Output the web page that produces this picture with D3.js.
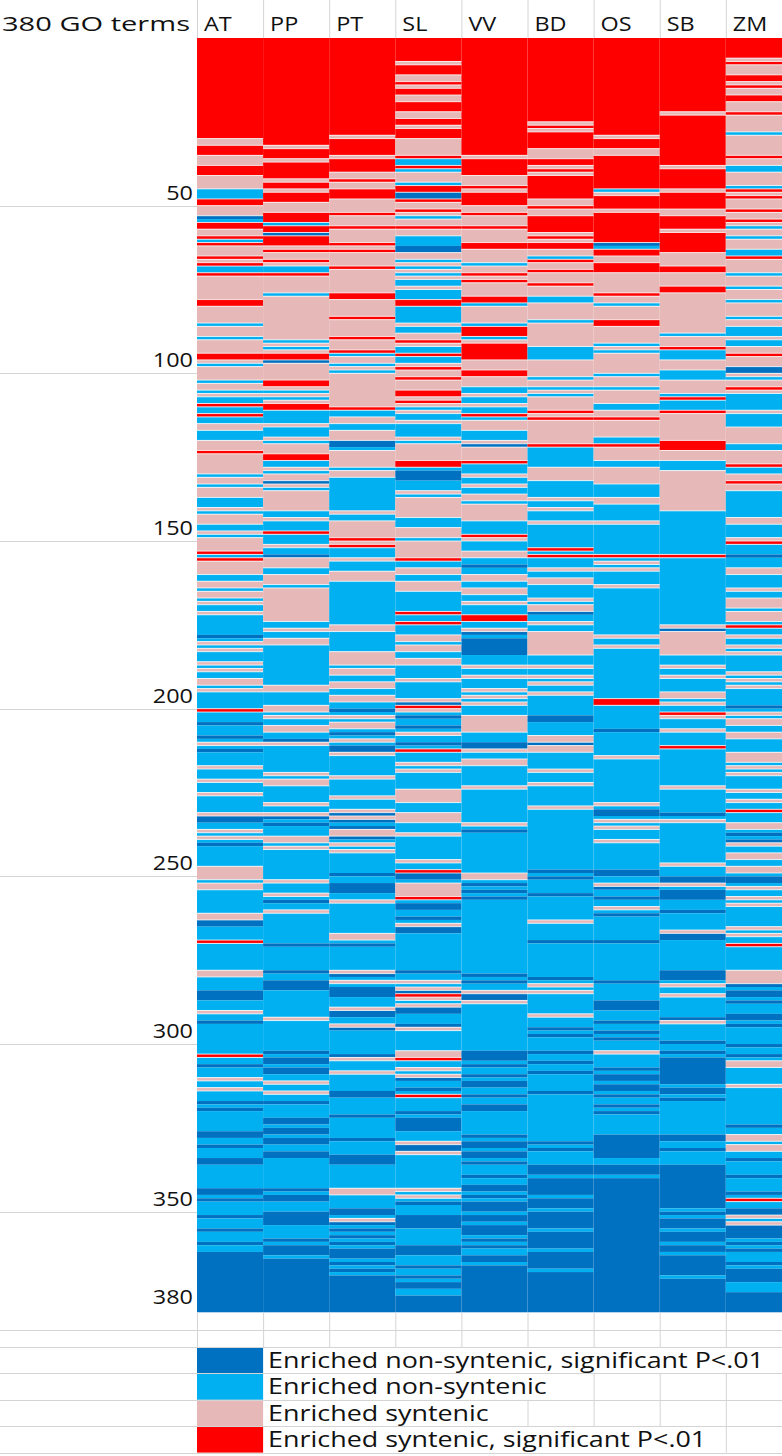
<!DOCTYPE html>
<html>
<head>
<meta charset="utf-8">
<script src="https://cdn.jsdelivr.net/npm/d3@7"></script>
<style>
  body { margin: 0; background: #fff; }
  svg { display: block; }
  text { font-family: "Open Sans", "Noto Sans", sans-serif; fill: #111; }
</style>
</head>
<body>
<svg id="chart" width="782" height="1456"></svg>
<script>
// Species columns and row labels
const species = ["AT", "PP", "PT", "SL", "VV", "BD", "OS", "SB", "ZM"];
const rowTicks = [50, 100, 150, 200, 250, 300, 350, 380];
const totalTerms = 380;

// Category codes: D = enriched non-syntenic (P<.01), L = enriched non-syntenic,
// P = enriched syntenic, R = enriched syntenic (P<.01)
const categoryCodes = ["D", "L", "P", "R"];
const categoryLabels = [
  "Enriched non-syntenic, significant P<.01",
  "Enriched non-syntenic",
  "Enriched syntenic",
  "Enriched syntenic, significant P<.01"
];
const categoryColors = ["#0070c0", "#00b0f0", "#e6b8b7", "#ff0000"];

// Each token = category code + first GO-term row (0-based) of a run of equal category
const AT = "R0 P30 R32 P35 R38 P41 L45 R48 P50 D53 L54 R55 P57 R59 L60 R61 P62 R65 P66 R67 L68 R70 P71 R78 P80 L85 P86 L89 P90 R94 P96 L97 P98 L102 P103 L105 P106 L107 R109 L110 R112 L113 P115 L117 P120 R123 P124 L130 P131 L133 P134 L137 P140 L141 P142 L145 P147 L148 P149 R153 L154 R155 P156 L160 P162 L164 P165 L167 P168 L169 P171 L172 D178 L179 P180 L181 P182 L183 P186 L187 P188 L189 P191 L193 P194 L195 R200 L201 D204 L205 D208 L209 P210 L211 D212 L213 P217 L218 P221 L222 P225 L226 P231 D232 L234 P236 L237 P238 L239 D240 L241 P247 L251 P252 L254 P261 D263 L265 R269 L270 P278 L280 D284 L287 P290 L291 D293 L294 R303 L304 D306 L307 P310 L311 P313 L314 D317 L318 D319 L320 D326 L328 D330 L331 D334 L336 D343 L345 D346 L347 D351 L352 D355 L356 D359 L360 D362".split(" ");
const PP = "R0 P32 R33 P36 R37 P42 R43 P45 R46 P49 R52 L55 R56 D58 R59 P62 R63 P64 R66 P67 L68 R70 P71 L76 P77 L90 P91 L92 P93 R94 D96 P97 R102 P104 L105 P106 L107 P108 R109 L111 P115 L116 P119 L120 P121 R124 L126 P128 L129 P130 D132 P133 L134 P135 L141 P143 L144 R147 L148 P151 L152 D154 P155 L158 P160 L163 P164 L174 P176 L177 P179 L181 P193 L195 P199 L201 P202 L203 P205 L207 D209 P210 L211 P219 L220 P221 L223 P228 L229 P231 D232 L233 D234 L235 P238 L240 P241 L242 P251 L252 P255 L256 D257 L258 P260 L261 D270 L271 D278 L279 D281 L284 P292 L293 D302 L303 D304 L306 D307 L309 P311 L312 P314 L315 D317 L318 D322 L324 D325 L327 D328 L330 D332 L334 D343 L344 D345 L347 D350 L354 D358 L359 D360 L363 D364".split(" ");
const PT = "R0 P29 R30 P35 R36 P40 R42 P43 R45 P48 R52 P53 R56 P57 R61 P62 R63 P64 R68 P69 R76 P78 R83 P84 R89 P90 R93 L94 P95 L97 P98 L99 P100 R110 L111 P113 L115 P117 D120 L122 P123 L128 P129 L131 P141 L142 P144 R149 P150 R151 L152 P155 L156 P159 L162 P175 L177 P183 L187 P188 L190 P192 L194 P196 L198 D200 L201 P202 L203 P204 L206 D207 L208 P209 L210 D211 P213 L214 P220 L221 P226 L227 P230 D231 P232 D233 L234 D235 P236 D238 L239 P240 L241 P242 L243 D249 L250 D252 L255 P257 L258 P267 L269 D270 L271 P278 D279 L280 P281 L282 D283 L286 P289 D290 L292 P294 D295 L296 D303 P304 L305 P308 L309 D314 L316 D321 L322 D328 L329 D333 L336 P343 L345 D349 L351 P352 D353 L354 D355 L356 D357 L358 D359 L360 D361 L364 D365 L366 D367 L368 D369".split(" ");
const SL = "R0 P7 R8 P11 R13 P14 R15 P17 R19 P22 R24 P26 R27 P30 R35 L36 R38 L39 P40 L43 R44 D46 R48 P49 R51 P52 L53 P54 R56 P57 L59 D62 P64 L66 P67 L68 P69 L70 P71 L72 P74 L75 R78 L80 P85 L86 P88 R90 P91 L92 R94 L95 P97 R98 P99 R101 P102 R105 P107 R108 P109 L110 P111 L112 P114 L115 P119 L120 P121 R126 L128 D129 L132 P135 L136 P137 L143 P146 L149 P150 R155 L156 P158 L160 P162 L165 R171 L172 R174 L175 P178 L180 P181 L183 P185 L187 P191 L192 P197 D198 R199 P200 L201 D202 L203 D205 L206 P207 L208 D210 L211 R212 L213 P216 L217 P218 L219 P224 L228 P231 L234 P237 L238 P245 L246 R248 D249 L251 P252 R256 L257 D258 L260 D262 L263 P264 D265 L267 D278 L279 P281 L282 P283 D284 R285 P286 L287 P288 D289 L291 D294 P295 L296 P302 R304 L305 P307 L308 P309 D310 L311 D313 L314 R315 L316 D320 L321 D322 L326 P329 D330 P332 L333 P343 L344 P345 L346 D347 L348 D351 L355 D360 L363 D366 L367 D369 L370 D371 L373 D375".split(" ");
const VV = "R0 P35 R36 P41 R44 P45 R46 P50 R52 P53 R56 P57 R61 P63 L67 P68 R70 P71 R72 P73 R77 L79 P80 L85 R86 L89 P90 R91 P96 R99 P101 L104 P106 L107 P109 L110 R112 L113 P114 L117 P120 D121 P122 R126 L127 P130 L131 P133 L134 P136 L138 P139 L144 R148 P149 L150 P153 L155 D157 L158 P160 L162 P164 L166 P168 L169 R172 L174 P176 D177 L178 D179 L184 P187 L188 P190 L191 P194 L195 P196 L197 P198 L199 P202 L207 D210 P212 L213 P215 L217 P223 L224 P234 L235 D236 L237 P249 L251 D252 L253 D254 L255 D256 L257 D279 L280 D281 L282 P284 D285 P287 L288 D302 L305 D306 L307 D309 L310 D311 L313 D315 L316 D318 L320 D327 L328 D329 L331 D332 L334 D335 L336 D339 L340 D342 L344 D345 L346 D347 L350 D351 L353 D354 L357 D358 L359 D360 L361 D363 L365 D366".split(" ");
const BD = "R0 P25 R26 P27 R28 P33 R36 P38 R39 P40 R41 P48 R50 P51 R53 P58 R59 P60 R61 P63 L65 R66 P67 R69 P70 R73 P74 L77 P79 L84 P85 L92 P96 L101 P102 L104 P105 L106 P107 R111 P112 R113 P114 R121 L122 P128 L132 P137 L138 P140 L141 P144 L145 R152 L153 R154 L155 P158 L159 P161 L163 P167 L168 P169 D171 L172 P174 L175 P177 L184 P187 L188 P190 L191 P192 L193 P195 L196 D202 L204 P208 D210 P211 L213 P218 L219 P222 L223 P229 L230 D248 L249 D250 L251 D255 L256 P263 L264 D269 L270 D280 L281 P282 L283 P284 L285 P291 L292 D295 L296 D297 L298 D302 L303 D305 L306 D308 L309 D314 L315 D329 L330 D331 L332 D336 L339 D340 L345 D346 L349 D350 L355 D356 L361 D362 L367 D368".split(" ");
const OS = "R0 P29 R30 P33 R35 L45 P46 R47 P51 R52 D61 L62 R63 P65 R67 P70 R76 P77 L79 P80 R84 P86 L91 P92 L93 P94 L100 P101 L104 P105 L109 P111 R113 P114 L119 R121 P122 L126 P128 L133 P137 L139 P144 L145 R154 L155 P156 L157 P158 L159 P163 L164 P178 L179 P181 L182 R197 L199 D206 L207 P214 L215 P228 L229 D230 L232 P233 L234 P235 L236 P239 L240 D248 L250 P252 D253 L254 D256 L257 P259 L260 D261 L262 D269 L270 D281 L282 D287 L290 D293 L294 D296 L297 D298 L299 P302 L303 D307 L308 D309 L311 D312 L314 D315 L316 D318 L319 D320 L321 D327 L334 D336 L339 D340".split(" ");
const SB = "R0 P22 R23 P38 R39 P45 R46 P51 R53 P57 R58 P64 R68 P70 R74 P76 L88 P89 R92 L93 P96 L99 P102 L106 R107 L108 R111 P112 R120 P123 L126 P129 L141 R154 L155 P175 D176 P177 L184 P187 L188 P190 L191 P195 L197 P198 L199 R201 P202 L203 P206 L207 R211 L212 P223 L224 D231 L232 P233 L234 P246 L247 D250 P252 L253 D254 L257 D260 L261 P266 D267 L269 D278 L281 P282 L283 P285 L286 D292 P293 L294 D299 L300 D302 L303 D304 L312 D313 L315 D316 L317 D327 L329 D331 L332 D336 L349 D350 L351 D352 L355 D356 L359 D360 L362 D363 L369 D370".split(" ");
const ZM = "R0 P6 R7 P8 R11 P13 R14 P15 R17 P19 R22 P23 L28 P29 R35 P36 L38 P40 L44 R45 P46 R47 P48 R51 P52 R54 P55 L56 P57 L59 P60 L63 R65 P66 L70 P71 L74 P75 L78 P79 L83 P84 L86 P89 L90 P92 R94 P95 D98 P100 L101 P102 R104 P105 L106 P111 L112 P116 L121 P123 R127 L128 P130 R132 P133 L135 P143 L145 P149 R150 L151 D154 L155 P158 L160 P164 L165 P167 L170 P171 L174 R175 L176 P178 L179 P181 L182 P183 L184 P189 L190 P191 L192 P193 L194 D199 L200 P201 L202 P203 L205 P207 L209 P213 L216 P217 L218 P219 L220 P224 L225 P227 L228 R230 L231 P234 L236 D237 L238 D239 P240 L241 P243 L245 P247 L249 D250 L252 P253 L254 P256 L257 P258 L259 P265 L266 P267 L268 R270 L271 P278 D282 L283 D284 L286 D287 L288 D291 L293 D294 L295 D300 L301 D303 L304 P305 L307 P312 L313 D324 L325 P327 L329 P330 L332 D334 L335 D339 L340 D344 L345 R346 L347 D349 P351 L352 P353 D354 L358 D359 L360 D361 L362 D365 L366 D367 L371 D374".split(" ");

const columnTokens = { AT, PP, PT, SL, VV, BD, OS, SB, ZM };

// ---- layout ----
const W = 782, H = 1456;
const labelColRight = 197;
const colWidth = 66.1;
const headerBottom = 38;
const heatBottom = 1312.3;
const gridColor = "#d4d4d4";
const labelFont = 19.5;
const labelStretch = 1.2;     // wide spreadsheet lettering
const titleWidth = 188;
const legendFont = 21;
const legendStretch = 1.28;

const svg = d3.select("#chart");

// widen glyphs horizontally without changing their height
function stretch(sel, sx) {
  sel.each(function () {
    const w = this.getComputedTextLength();
    d3.select(this).attr("textLength", w * sx).attr("lengthAdjust", "spacingAndGlyphs");
  });
}

const x = d3.scaleBand()
  .domain(species)
  .range([labelColRight, labelColRight + colWidth * species.length])
  .paddingInner(0).paddingOuter(0);

const y = d3.scaleLinear()
  .domain([0, totalTerms])
  .range([headerBottom, heatBottom]);

const color = d3.scaleOrdinal().domain(categoryCodes).range(categoryColors);

// Convert run tokens to {species, code, start, end}
const runs = [];
species.forEach(sp => {
  const toks = columnTokens[sp];
  toks.forEach((t, i) => {
    const start = +t.slice(1);
    const end = i < toks.length - 1 ? +toks[i + 1].slice(1) : totalTerms;
    runs.push({ sp, code: t[0], prev: i > 0 ? toks[i - 1][0] : null, start, end });
  });
});

// ---- header ----
const header = svg.append("g");
header.selectAll("line.vsep")
  .data(species)
  .join("line")
  .attr("class", "vsep")
  .attr("x1", d => x(d) + 0.5).attr("x2", d => x(d) + 0.5)
  .attr("y1", 0).attr("y2", headerBottom)
  .attr("stroke", gridColor);
const title = header.append("text")
  .attr("x", 2).attr("y", 31)
  .attr("font-size", labelFont)
  .text(totalTerms + " GO terms");
title.attr("textLength", titleWidth).attr("lengthAdjust", "spacingAndGlyphs");
header.selectAll("text.sp")
  .data(species)
  .join("text")
  .attr("class", "sp")
  .attr("x", d => x(d) + 7)
  .attr("y", 31)
  .attr("font-size", labelFont)
  .text(d => d)
  .call(stretch, labelStretch);

// ---- row label column ----
const left = svg.append("g");
left.selectAll("line.rowgrid")
  .data(rowTicks.filter(d => d < totalTerms))
  .join("line")
  .attr("class", "rowgrid")
  .attr("x1", 0).attr("x2", labelColRight)
  .attr("y1", d => Math.round(y(d)) + 0.5).attr("y2", d => Math.round(y(d)) + 0.5)
  .attr("stroke", gridColor);
left.selectAll("text.rowlab")
  .data(rowTicks)
  .join("text")
  .attr("class", "rowlab")
  .attr("x", labelColRight - 4)
  .attr("y", d => y(d) - (d === totalTerms ? 8 : 6))
  .attr("text-anchor", "end")
  .attr("font-size", labelFont)
  .text(d => d)
  .call(stretch, labelStretch);

// ---- heatmap cells ----
const cells = svg.append("g");
cells.selectAll("rect")
  .data(runs)
  .join("rect")
  .attr("x", d => x(d.sp))
  .attr("y", d => y(d.start))
  .attr("width", x.bandwidth())
  .attr("height", d => y(d.end) - y(d.start))
  .attr("fill", d => color(d.code));

// light seams where syntenic runs meet other runs
cells.selectAll("line")
  .data(runs.filter(d => d.prev && (d.code === "R" || d.code === "P" || d.prev === "R" || d.prev === "P")))
  .join("line")
  .attr("x1", d => x(d.sp)).attr("x2", d => x(d.sp) + x.bandwidth())
  .attr("y1", d => y(d.start)).attr("y2", d => y(d.start))
  .attr("stroke", "#fff")
  .attr("stroke-opacity", 0.85)
  .attr("stroke-width", 0.9);

// ---- spreadsheet rows beneath the heatmap and legend ----
const legendTop = 1347;
const legendRowH = 26.4;
const blankRows = [heatBottom, 1330, legendTop];
const legendRows = d3.range(categoryCodes.length + 1).map(i => legendTop + i * legendRowH);

const below = svg.append("g");
below.selectAll("line.vblank")
  .data(species)
  .join("line")
  .attr("class", "vblank")
  .attr("x1", d => x(d) + 0.5).attr("x2", d => x(d) + 0.5)
  .attr("y1", heatBottom).attr("y2", legendTop)
  .attr("stroke", gridColor);

const legendOrder = [0, 1, 2, 3];
below.selectAll("rect.swatch")
  .data(legendOrder)
  .join("rect")
  .attr("class", "swatch")
  .attr("x", x(species[0]))
  .attr("y", i => legendRows[i])
  .attr("width", x.bandwidth())
  .attr("height", legendRowH)
  .attr("fill", i => color(categoryCodes[i]));

const legText = below.selectAll("text.leg")
  .data(legendOrder)
  .join("text")
  .attr("class", "leg")
  .attr("x", x(species[1]) + 5)
  .attr("y", i => legendRows[i] + 21)
  .attr("font-size", legendFont)
  .text(i => categoryLabels[i])
  .call(stretch, legendStretch);

// vertical gridlines in legend rows, hidden where label text overflows
legendOrder.forEach(i => {
  const textEnd = x(species[1]) + 5 + (+legText.nodes()[i].getAttribute("textLength"));
  species.slice(2).forEach(sp => {
    if (x(sp) > textEnd) {
      below.append("line")
        .attr("x1", x(sp) + 0.5).attr("x2", x(sp) + 0.5)
        .attr("y1", legendRows[i]).attr("y2", legendRows[i + 1])
        .attr("stroke", gridColor);
    }
  });
});

below.selectAll("line.hrow")
  .data(blankRows.slice(1).concat(legendRows))
  .join("line")
  .attr("class", "hrow")
  .attr("x1", 0).attr("x2", W)
  .attr("y1", d => Math.round(d) + 0.5).attr("y2", d => Math.round(d) + 0.5)
  .attr("stroke", gridColor);
</script>
</body>
</html>
